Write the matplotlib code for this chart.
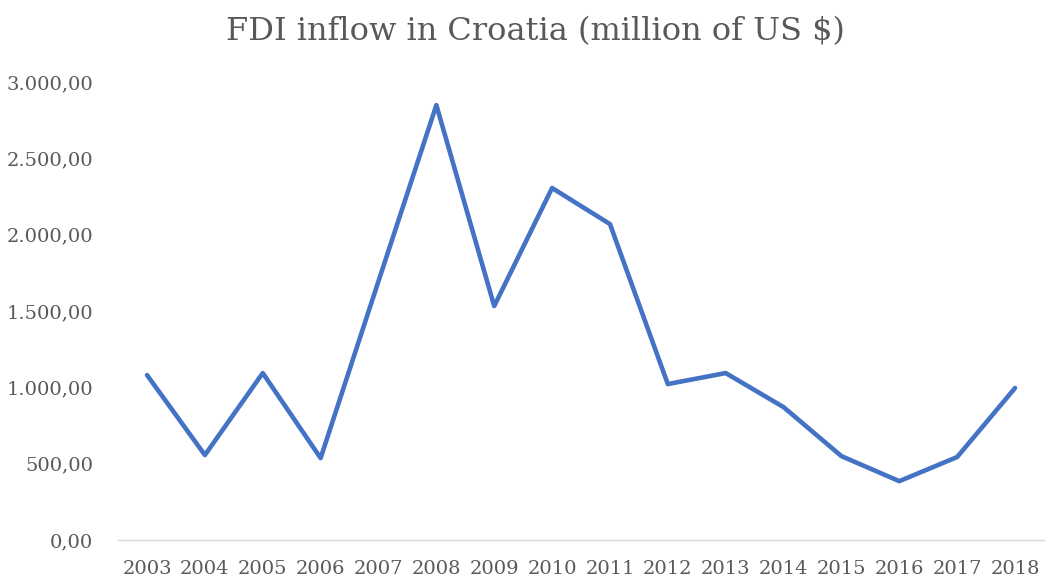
import matplotlib
matplotlib.use("Agg")
import matplotlib.pyplot as plt
from matplotlib.ticker import FuncFormatter

years = ["2003", "2004", "2005", "2006", "2007", "2008", "2009", "2010",
         "2011", "2012", "2013", "2014", "2015", "2016", "2017", "2018"]
fdi = [1081, 557, 1094, 537, 1696, 2849, 1533, 2306,
       2070, 1022, 1094, 871, 550, 386, 544, 996]

plt.rcParams['font.family'] = ['DejaVu Serif']

fig = plt.figure(figsize=(10.45, 5.82), dpi=100)
ax = fig.add_axes([0.113, 0.072, 0.886, 0.787])

x = list(range(len(years)))
ax.plot(x, fdi, color="#4472C4", linewidth=3.3, solid_joinstyle="round",
        solid_capstyle="round")

ax.set_xlim(-0.5, len(years) - 0.5)
ax.set_ylim(0, 3000)
ax.set_yticks([0, 500, 1000, 1500, 2000, 2500, 3000])

def fmt(v, pos):
    s = f"{v:,.2f}"
    return s.replace(",", "X").replace(".", ",").replace("X", ".")

ax.yaxis.set_major_formatter(FuncFormatter(fmt))
ax.set_xticks(x)
ax.set_xticklabels(years)

for s in ["top", "right", "left"]:
    ax.spines[s].set_visible(False)
ax.spines["bottom"].set_color("#D9D9D9")
ax.spines["bottom"].set_linewidth(1.0)

ax.tick_params(axis="both", length=0, labelsize=14, labelcolor="#595959")
ax.tick_params(axis="y", pad=18)
ax.tick_params(axis="x", pad=14)

fig.text(0.512, 0.945, "FDI inflow in Croatia (million of US $)", ha="center",
         va="center", fontsize=23, color="#595959")

fig.savefig("out.png", dpi=100)
